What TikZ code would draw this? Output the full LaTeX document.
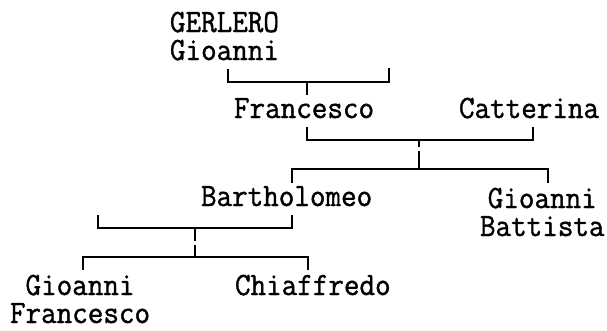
\documentclass[tikz,border=0pt]{standalone}
\usepackage{fontspec}
\newfontfamily\treefont[FakeStretch=0.93,FakeBold=1.2]{Latin Modern Mono}
\begin{document}
\begin{tikzpicture}[x=1pt,y=-1pt,
  person/.style={anchor=south west,inner sep=0pt,outer sep=0pt,text depth=0pt,font=\treefont\fontsize{32.5}{28}\selectfont},
  link/.style={line width=1.8pt,line cap=butt,line join=miter}]
\useasboundingbox (0,0) rectangle (607,330);
% names (bottom of last line = baseline)
\node[person,align=left]   (ger)  at (170,60)  {GERLERO\\Gioanni};
\node[person] (fra1) at (234,118) {Francesco};
\node[person] (cat)  at (459,118) {Catterina};
\node[person] (bar)  at (201,206) {Bartholomeo};
\node[person,align=center] (gio2) at (480,236) {Gioanni\\Battista};
\node[person,align=center] (gio3) at (10,323)  {Gioanni\\Francesco};
\node[person] (chi)  at (235,295) {Chiaffredo};
% bracket 1
\coordinate (a1) at (228,69);  \coordinate (a2) at (228,82);
\coordinate (a3) at (389,82);  \coordinate (a4) at (389,68);
\coordinate (am) at (307,82);  \coordinate (ae) at (307,95);
\draw[link] (a1) -- (a2) -- (a3) -- (a4);
\draw[link] (am) -- (ae);
% bracket 2
\coordinate (b1) at (307,127); \coordinate (b2) at (307,140);
\coordinate (b3) at (533,140); \coordinate (b4) at (533,127);
\draw[link] (b1) -- (b2) -- (b3) -- (b4);
\coordinate (bm) at (419,140); \coordinate (bg1) at (419,147);
\coordinate (bg2) at (419,151); \coordinate (bn) at (419,169);
\draw[link] (bm) -- (bg1) (bg2) -- (bn);
\coordinate (c1) at (292,183); \coordinate (c2) at (292,169);
\coordinate (c3) at (548,169); \coordinate (c4) at (548,183);
\draw[link] (c1) -- (c2) -- (c3) -- (c4);
% bracket 3
\coordinate (d1) at (98,215);  \coordinate (d2) at (98,228);
\coordinate (d3) at (292,228); \coordinate (d4) at (292,215);
\draw[link] (d1) -- (d2) -- (d3) -- (d4);
\coordinate (dm) at (195,228); \coordinate (dg1) at (195,241);
\coordinate (dg2) at (195,245); \coordinate (dn) at (195,257);
\draw[link] (dm) -- (dg1) (dg2) -- (dn);
\coordinate (e1) at (83,270);  \coordinate (e2) at (83,257);
\coordinate (e3) at (308,257); \coordinate (e4) at (308,270);
\draw[link] (e1) -- (e2) -- (e3) -- (e4);
\end{tikzpicture}
\end{document}
